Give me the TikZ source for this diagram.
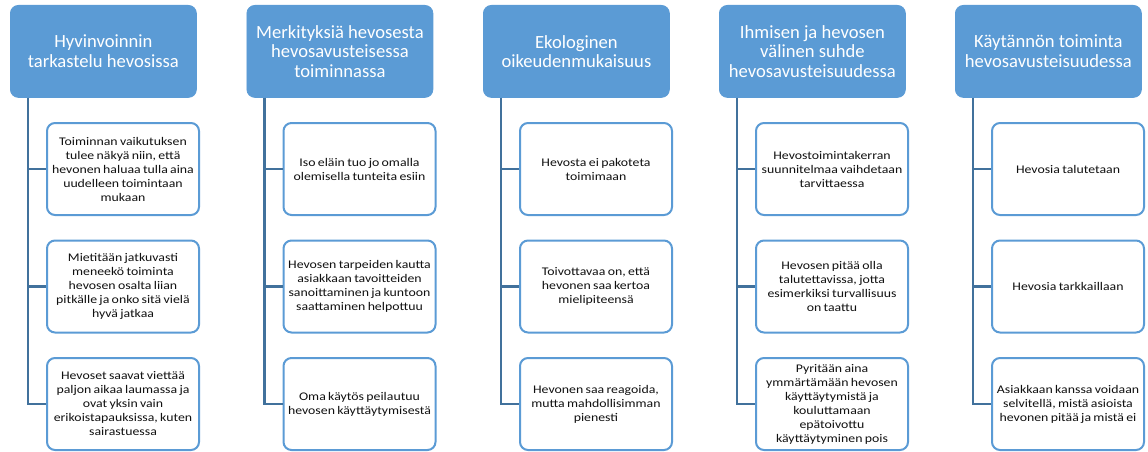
\documentclass[tikz,border=0pt]{standalone}
\usepackage{fontspec}
\setmainfont{Carlito}
\newfontfamily\childface[FakeStretch=1.18,WordSpace=0.75]{Carlito}
\definecolor{hdrblue}{HTML}{5B9BD5}
\definecolor{linkblue}{HTML}{41719C}
\definecolor{txtgray}{HTML}{111111}
\begin{document}
\begin{tikzpicture}[x=1pt,y=-1pt,
  header/.style={draw=hdrblue, fill=hdrblue, rounded corners=8pt, line width=0.8pt,
    minimum width=186pt, minimum height=92pt, anchor=north west, align=center,
    text=white, font=\fontsize{18.6}{19.5}\selectfont, inner sep=2pt},
  child/.style={draw=hdrblue, fill=white, rounded corners=8pt, line width=2pt,
    minimum width=152pt, minimum height=92pt, anchor=north west, align=center,
    text=txtgray, font=\childface\fontsize{11.7}{14}\selectfont, inner sep=2pt},
  link/.style={draw=linkblue, line width=2.6pt}]
\path[use as bounding box] (0,0) rectangle (1148,452);

% Column 1
\node[header] (h1) at (10,5) {Hyvinvoinnin\\tarkastelu hevosissa};
\node[child] (c11) at (46,122) {Toiminnan vaikutuksen\\tulee näkyä niin, että\\hevonen haluaa tulla aina\\uudelleen toimintaan\\mukaan};
\node[child] (c12) at (46,239.5) {Mietitään jatkuvasti\\meneekö toiminta\\hevosen osalta liian\\pitkälle ja onko sitä vielä\\hyvä jatkaa};
\node[child] (c13) at (46,357) {Hevoset saavat viettää\\paljon aikaa laumassa ja\\ovat yksin vain\\erikoistapauksissa, kuten\\sairastuessa};

% Column 2
\node[header] (h2) at (246.5,5) {Merkityksiä hevosesta\\hevosavusteisessa\\toiminnassa};
\node[child] (c21) at (282.5,122) {Iso eläin tuo jo omalla\\olemisella tunteita esiin};
\node[child] (c22) at (282.5,239.5) {Hevosen tarpeiden kautta\\asiakkaan tavoitteiden\\sanoittaminen ja kuntoon\\saattaminen helpottuu};
\node[child] (c23) at (282.5,357) {Oma käytös peilautuu\\hevosen käyttäytymisestä};

% Column 3
\node[header] (h3) at (483,5) {Ekologinen\\oikeudenmukaisuus};
\node[child] (c31) at (519,122) {Hevosta ei pakoteta\\toimimaan};
\node[child] (c32) at (519,239.5) {Toivottavaa on, että\\hevonen saa kertoa\\mielipiteensä};
\node[child] (c33) at (519,357) {Hevonen saa reagoida,\\mutta mahdollisimman\\pienesti};

% Column 4
\node[header] (h4) at (719,5) {Ihmisen ja hevosen\\välinen suhde\\hevosavusteisuudessa};
\node[child] (c41) at (755,122) {Hevostoimintakerran\\suunnitelmaa vaihdetaan\\tarvittaessa};
\node[child] (c42) at (755,239.5) {Hevosen pitää olla\\talutettavissa, jotta\\esimerkiksi turvallisuus\\on taattu};
\node[child] (c43) at (755,357) {Pyritään aina\\ymmärtämään hevosen\\käyttäytymistä ja\\kouluttamaan\\epätoivottu\\käyttäytyminen pois};

% Column 5
\node[header] (h5) at (955,5) {Käytännön toiminta\\hevosavusteisuudessa};
\node[child] (c51) at (991,122) {Hevosia talutetaan};
\node[child] (c52) at (991,239.5) {Hevosia tarkkaillaan};
\node[child] (c53) at (991,357) {Asiakkaan kanssa voidaan\\selvitellä, mistä asioista\\hevonen pitää ja mistä ei};

% Connectors
\foreach \c in {1,...,5}{
  \foreach \r in {1,2,3}{
    \draw[link] (h\c.south west) ++(18,0) |- (c\c\r.west);
  }
}
\end{tikzpicture}
\end{document}
